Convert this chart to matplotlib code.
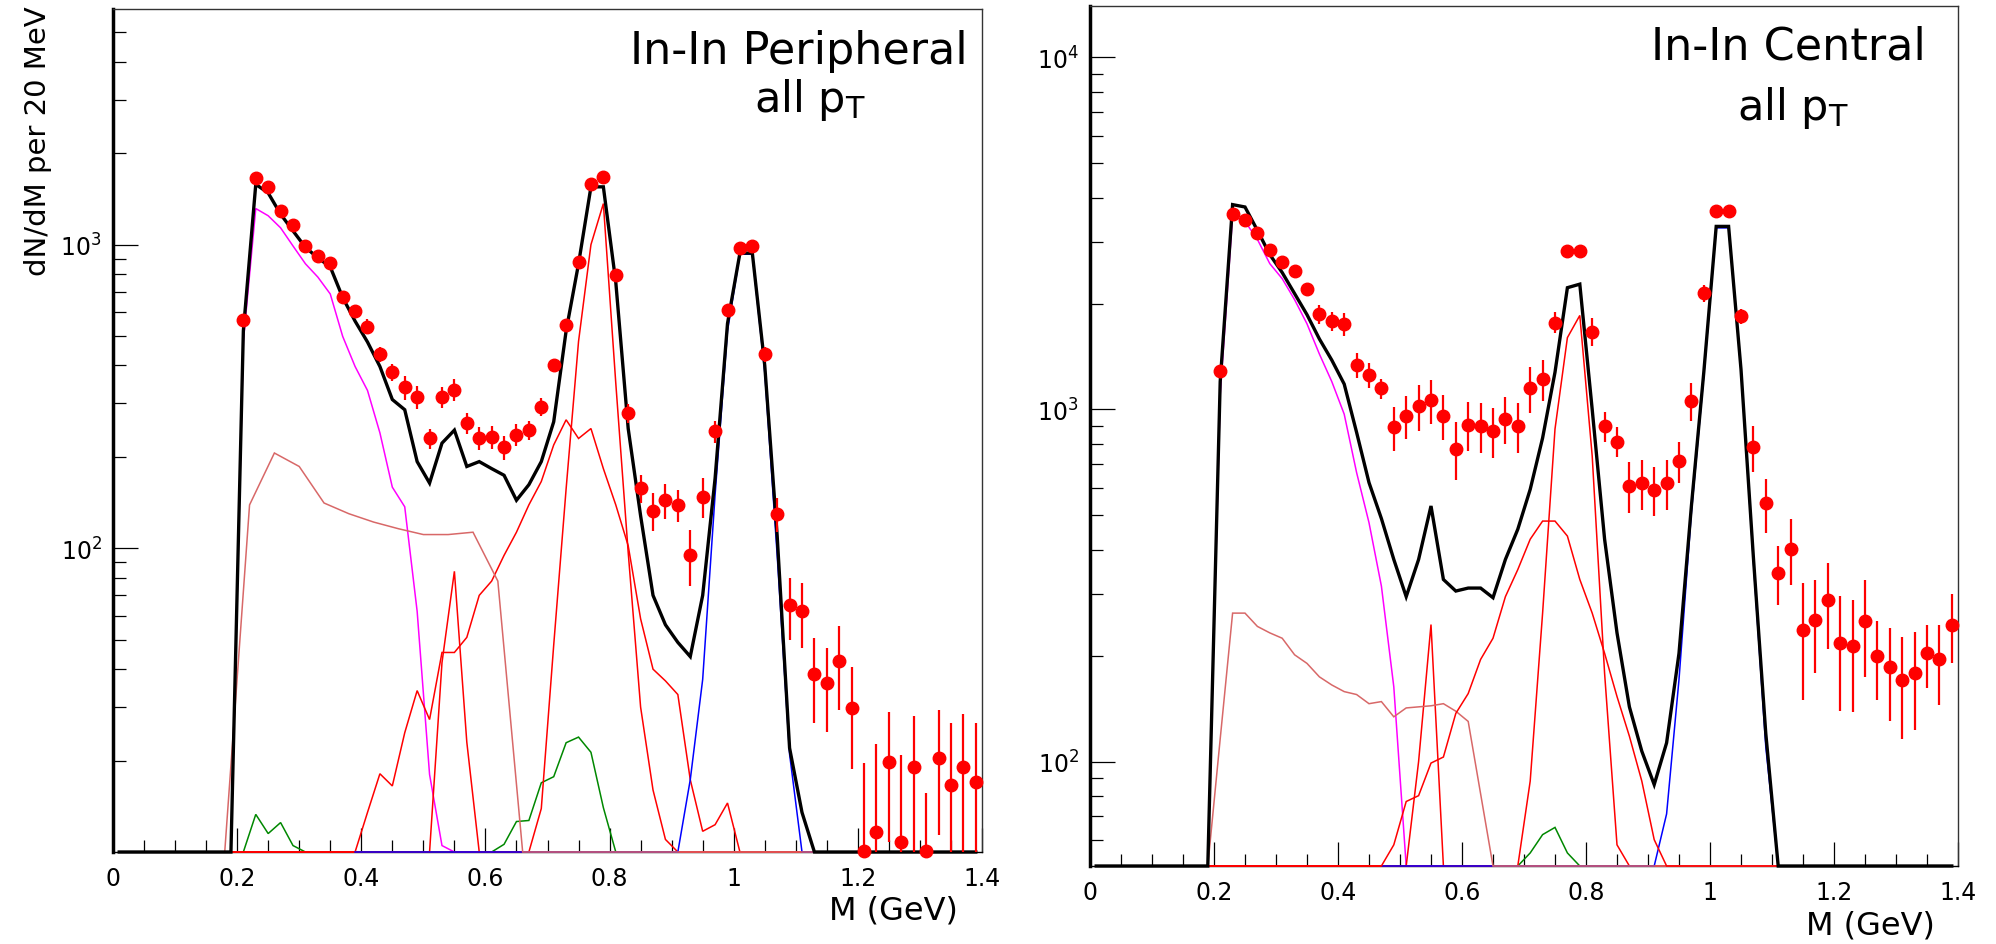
import numpy as np
import matplotlib
matplotlib.use("Agg")
import matplotlib.pyplot as plt
from matplotlib.ticker import FixedLocator, FixedFormatter, LogLocator, NullFormatter

plt.rcParams['font.family'] = ['DejaVu Sans']
plt.rcParams['mathtext.fontset'] = 'dejavusans'

# ============================================
# data : 20 MeV bins, centres 0.21 ... 1.39 GeV
# ============================================
m_data = np.round(np.arange(0.21, 1.395, 0.02), 2)

per_data = [565, 1653, 1551, 1292, 1163, 991, 917, 871, 674, 605,
            537, 435, 381, 339, 315, 230, 315, 333, 258, 230,
            233, 215, 237, 245, 293, 401, 545, 875, 1578, 1676,
            796, 278, 158, 133, 144, 139, 95, 148, 243, 611,
            973, 991, 435, 130, 65, 62, 38.6, 35.9, 42.4, 29.8,
            10.1, 11.6, 19.8, 10.8, 19.0, 10.1, 20.4, 16.6, 19.0, 17.0]
per_err = [25, 50, 50, 45, 40, 35, 35, 35, 30, 30,
           30, 25, 25, 30, 28, 18, 26, 28, 20, 20,
           20, 20, 20, 18, 20, 20, 25, 30, 40, 40,
           30, 20, 17, 19, 19, 17, 20, 22, 20, 25,
           30, 30, 25, 17, 15, 15, 12, 11, 13, 11,
           9.5, 11, 9, 10, 9, 5.6, 9, 10, 9.5, 9.5]

cen_data = [1288, 3597, 3459, 3162, 2831, 2628, 2466, 2199, 1865, 1779,
            1751, 1339, 1253, 1148, 889, 957, 1020, 1061, 957, 774,
            906, 896, 867, 942, 896, 1148, 1218, 1766, 2818, 2818,
            1664, 896, 811, 608, 618, 592, 618, 715, 1057, 2139,
            3656, 3656, 1841, 780, 541, 344, 402, 236, 253, 288,
            217, 213, 251, 200, 185, 171, 178, 203, 195, 245]
cen_err = [50, 90, 90, 85, 80, 80, 80, 80, 120, 110,
           130, 110, 100, 75, 125, 135, 150, 150, 140, 145,
           145, 145, 140, 145, 145, 170, 160, 120, 100, 100,
           150, 90, 80, 100, 100, 95, 100, 95, 130, 120,
           120, 120, 90, 115, 95, 65, 85, 86, 75, 79,
           78, 75, 77, 50, 55, 55, 55, 41, 50, 54]

# ============================================
# cocktail : 20 MeV grid 0.01 ... 1.39, each list starts at the given mass
# ============================================
m_model = np.round(np.arange(0.01, 1.395, 0.02), 2)

per_sum = (0.19, [0, 520, 1580, 1480, 1260, 1110, 980, 905, 845, 670,
                  560, 478, 397, 309, 286, 193, 164, 222, 245, 186,
                  193, 183, 174, 144, 162, 193, 261, 520, 865, 1550,
                  1550, 753, 248, 128, 70, 56, 49, 44, 70, 170,
                  550, 938, 938, 400, 110, 22, 13.5, 0])
per_eta_dal = (0.19, [0, 480, 1315, 1245, 1136, 990, 865, 782, 688, 499,
                      397, 331, 240, 159, 137, 62, 18, 10.5, 0])
per_green = (0.21, [0, 13.3, 11.5, 12.5, 10.5, 0, 0, 0, 0, 0,
                    0, 0, 0, 0, 0, 0, 0, 0, 0, 0,
                    0, 10.6, 12.6, 12.7, 16.9, 17.7, 22.9, 23.9, 21.3, 14, 0])
per_rho = (0.37, [0, 10, 13.5, 18.1, 16.5, 24.7, 34, 27.3, 45.4, 45.4,
                  50.9, 70, 78, 94.8, 113, 139, 166, 219, 265, 230,
                  248, 183, 139, 102, 58.6, 40, 36.6, 33, 17.3, 11.7,
                  12.3, 14.5, 0])
per_eta_mm = (0.51, [0, 42, 84, 23, 0])
per_omega = (0.67, [0, 13.9, 48, 157, 480, 1000, 1365, 350, 97, 30, 16, 11, 0])
per_phi = (0.91, [0, 17.3, 37, 150, 520, 930, 930, 380, 95, 21, 0])
# omega Dalitz, 40 MeV bins from 0.18
m_wide = np.round(np.arange(0.18, 1.395, 0.04), 2)
per_omega_dal = (0.18, [0, 139, 206, 186, 141, 130, 122, 116, 111, 111, 113, 78, 0])

cen_sum = (0.19, [0, 1200, 3819, 3760, 3227, 2755, 2449, 2134, 1859, 1586,
                  1381, 1181, 861, 620, 490, 375, 294, 375, 532, 329,
                  305, 311, 311, 292, 375, 457, 593, 830, 1276, 2218,
                  2270, 1000, 428, 232, 143, 107, 86, 113, 203, 532,
                  1276, 3312, 3312, 1300, 380, 120, 0])
cen_eta_dal = (0.19, [0, 1100, 3550, 3420, 3042, 2596, 2353, 2051, 1751, 1437,
                      1200, 970, 662, 477, 315, 163, 0])
cen_omega_dal = (0.19, [0, 116, 264, 264, 242, 232, 224, 201, 190, 174,
                        165, 158, 155, 146, 148, 134, 142, 143, 144, 146,
                        139, 130, 81, 0])
cen_eta_mm = (0.51, [0, 100, 245, 0])
cen_rho = (0.47, [0, 58, 77, 80, 99, 103, 137, 156, 195, 224,
                  294, 351, 428, 482, 482, 437, 329, 264, 203, 153,
                  118, 88, 60, 0])
cen_omega = (0.69, [0, 88, 264, 880, 1600, 1850, 738, 178, 58, 0])
cen_green = (0.69, [0, 55, 62, 65, 55, 0])
cen_phi = (0.91, [0, 71, 171, 509, 1250, 3280, 3280, 1290, 370, 110, 0])

x_major = [0, 0.2, 0.4, 0.6, 0.8, 1.0, 1.2, 1.4]
x_labels = ['0', '0.2', '0.4', '0.6', '0.8', '1', '1.2', '1.4']


def on_grid(curve, grid, step):
    start, vals = curve
    out = np.zeros(len(grid))
    i0 = int(round((start - grid[0]) / step))
    out[i0:i0 + len(vals)] = vals
    return out


def draw(ax, curve, color, ylo, lw=1.1, grid=m_model, step=0.02, m_from=None, z=3):
    y = np.maximum(on_grid(curve, grid, step), ylo)   # ROOT draws empty bins on the frame
    sel = grid >= (m_from if m_from is not None else grid[0]) - 1e-9
    ax.plot(grid[sel], y[sel], color=color, lw=lw, zorder=z, clip_on=False,
            solid_joinstyle='miter')


def style(ax, ylo, yhi, ymaj, ylab):
    ax.set_xlim(0, 1.4)
    ax.set_yscale('log')
    ax.set_ylim(ylo, yhi)
    ax.xaxis.set_major_locator(FixedLocator(x_major))
    ax.xaxis.set_major_formatter(FixedFormatter(x_labels))
    ax.xaxis.set_minor_locator(FixedLocator(np.arange(0, 1.401, 0.05)))
    ax.yaxis.set_major_locator(FixedLocator(ymaj))
    ax.yaxis.set_major_formatter(FixedFormatter(ylab))
    ax.yaxis.set_minor_locator(LogLocator(base=10, subs=np.arange(2, 10)))
    ax.yaxis.set_minor_formatter(NullFormatter())
    ax.tick_params(which='both', direction='in', top=False, right=False, width=0.9,
                   colors='black', labelsize=17)
    ax.tick_params(axis='x', which='major', length=17, pad=10)
    ax.tick_params(axis='x', which='minor', length=8.5)
    ax.tick_params(axis='y', which='major', length=18, pad=8)
    ax.tick_params(axis='y', which='minor', length=9)
    ax.spines['left'].set_linewidth(2.5)
    ax.spines['bottom'].set_linewidth(1.0)
    for s in ['top', 'right']:
        ax.spines[s].set_linewidth(1.0)
        ax.spines[s].set_color('#333333')


def data(ax, y, e):
    ax.errorbar(m_data, y, yerr=e, fmt='none', ecolor='#ff0000', elinewidth=1.6,
                capsize=0, zorder=9)
    ax.plot(m_data, y, 'o', color='#ff0000', ms=9, mec='#ff0000', zorder=10, clip_on=False)


W, H = 1996, 945
fig = plt.figure(figsize=(W / 100, H / 100), dpi=100)
ax1 = fig.add_axes([113 / W, 1 - 853 / H, 869 / W, 843 / H])
ax2 = fig.add_axes([1090 / W, 1 - 867 / H, 868 / W, 860 / H])

RED, SALMON = '#ff0000', '#d86868'

# ---- peripheral ----
lo = 10
style(ax1, lo, 5970, [1e2, 1e3], [r'$\mathregular{10^{2}}$', r'$\mathregular{10^{3}}$'])
draw(ax1, per_green, '#008800', lo)
draw(ax1, per_eta_dal, '#ff00ff', lo)
draw(ax1, per_eta_mm, RED, lo)
draw(ax1, per_rho, RED, lo)
draw(ax1, per_omega, RED, lo)
draw(ax1, per_phi, '#0000ff', lo, m_from=0.39)
draw(ax1, per_omega_dal, SALMON, lo, grid=m_wide, step=0.04)
draw(ax1, per_sum, 'black', lo, lw=2.4, z=5)
data(ax1, per_data, per_err)

# ---- central ----
lo = 50.5
style(ax2, lo, 14000, [1e2, 1e3, 1e4],
      [r'$\mathregular{10^{2}}$', r'$\mathregular{10^{3}}$', r'$\mathregular{10^{4}}$'])
draw(ax2, cen_green, '#008800', lo)
draw(ax2, cen_eta_dal, '#ff00ff', lo)
draw(ax2, cen_eta_mm, RED, lo)
draw(ax2, cen_omega, RED, lo)
draw(ax2, cen_phi, '#0000ff', lo, m_from=0.47)
draw(ax2, cen_omega_dal, SALMON, lo)
draw(ax2, cen_rho, RED, lo)
draw(ax2, cen_sum, 'black', lo, lw=2.4, z=5)
data(ax2, cen_data, cen_err)


def ftext(x, y, s, **kw):
    fig.text(x / W, 1 - y / H, s, **kw)


ftext(968, 64, 'In-In Peripheral', fontsize=32, ha='right', va='baseline')
ftext(754, 112, r'all p$_{\mathregular{T}}$', fontsize=31, ha='left', va='baseline')
ftext(1926, 60, 'In-In Central', fontsize=32, ha='right', va='baseline')
ftext(1737, 120, r'all p$_{\mathregular{T}}$', fontsize=31, ha='left', va='baseline')

ftext(958, 920, 'M (GeV)', fontsize=23, ha='right', va='baseline')
ftext(1935, 935, 'M (GeV)', fontsize=23, ha='right', va='baseline')
ftext(38, 6, 'dN/dM per 20 MeV', fontsize=21, rotation=90, ha='center', va='top')

fig.savefig('out.png', dpi=100)
